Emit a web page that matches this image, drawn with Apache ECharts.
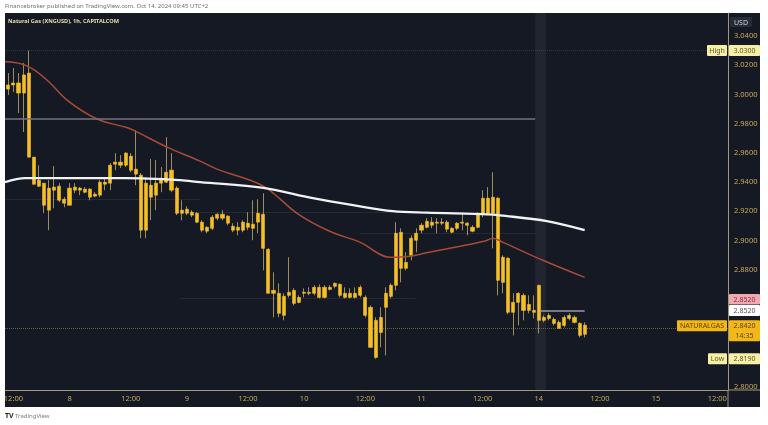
<!DOCTYPE html>
<html><head><meta charset="utf-8">
<script src="https://cdn.jsdelivr.net/npm/echarts@6/dist/echarts.min.js"></script>
<style>html,body{margin:0;padding:0;background:#fff;}#c{width:768px;height:425px;}</style>
</head><body><div id="c"></div>
<script>
// ---- time structure (hourly sessions, 1h break each day) ----
const sessions = [[7, 11, 22], [8, 0, 22], [9, 0, 22], [10, 0, 22], [11, 0, 22], [14, 0, 22], [15, 0, 22]];

// ---- OHLC ----
const openP = [3.0036,3.0064,3.0078,3.0009,3.0146,2.9570,2.9371,2.9392,2.9207,2.9365,2.9371,2.9282,2.9241,2.9365,2.9344,2.9351,2.9351,2.9303,2.9310,2.9399,
2.9392,2.9522,2.9536,2.9515,2.9577,2.9488,2.9447,2.9070,2.9378,2.9310,2.9392,2.9399,2.9481,2.9358,2.9186,2.9214,2.9193,2.9186,2.9125,2.9090,
2.9083,2.9152,2.9179,2.9166,2.9097,2.9070,2.9070,2.9118,2.9083,2.9125,2.9179,2.8939,2.8638,2.8638,2.8487,2.8624,2.8658,2.8576,2.8638,2.8645,
2.8638,2.8679,2.8610,2.8665,2.8686,2.8699,2.8638,2.8610,2.8638,2.8624,2.8610,2.8542,2.8199,2.8473,2.8542,2.8617,2.8693,2.9056,2.8809,2.8898,
2.9001,2.9070,2.9090,2.9125,2.9118,2.9125,2.9125,2.9083,2.9083,2.9118,2.9118,2.9090,2.9090,2.9186,2.9289,2.9186,2.9289,2.8713,2.8878,2.8508,
2.8576,2.8624,2.8521,2.8521,2.8693,2.8453,2.8466,2.8460,2.8439,2.8418,2.8466,2.8473,2.8432,2.8357];
const closeP = [3.0064,3.0078,3.0009,3.0133,2.9570,2.9385,2.9413,2.9241,2.9358,2.9344,2.9275,2.9255,2.9358,2.9344,2.9358,2.9330,2.9296,2.9317,2.9399,2.9385,
2.9515,2.9536,2.9515,2.9598,2.9481,2.9454,2.9070,2.9392,2.9296,2.9392,2.9426,2.9467,2.9344,2.9186,2.9207,2.9186,2.9173,2.9125,2.9070,2.9063,
2.9159,2.9179,2.9152,2.9118,2.9070,2.9090,2.9125,2.9090,2.9111,2.9186,2.8946,2.8638,2.8658,2.8501,2.8617,2.8645,2.8569,2.8610,2.8645,2.8638,
2.8679,2.8610,2.8679,2.8679,2.8706,2.8624,2.8610,2.8638,2.8610,2.8679,2.8487,2.8268,2.8453,2.8370,2.8638,2.8693,2.9049,2.8809,2.8850,2.9015,
2.9049,2.9104,2.9131,2.9104,2.9125,2.9118,2.9077,2.9056,2.9118,2.9125,2.9104,2.9063,2.9186,2.9289,2.9186,2.9296,2.8727,2.8885,2.8508,2.8576,
2.8638,2.8521,2.8562,2.8508,2.8453,2.8473,2.8487,2.8432,2.8398,2.8473,2.8487,2.8439,2.8350,2.8420];
const lowP = [2.9995,3.0016,2.9872,2.9742,2.9570,2.9378,2.9365,2.9186,2.9070,2.9220,2.9262,2.9227,2.9241,2.9323,2.9310,2.9323,2.9275,2.9296,2.9296,2.9344,
2.9344,2.9481,2.9495,2.9502,2.9467,2.9378,2.9015,2.9015,2.9138,2.9207,2.9330,2.9392,2.9330,2.9173,2.9138,2.9173,2.9159,2.9118,2.9056,2.9049,
2.9070,2.9138,2.9138,2.9104,2.9056,2.9035,2.9056,2.9070,2.9001,2.9049,2.8795,2.8638,2.8473,2.8473,2.8453,2.8610,2.8555,2.8569,2.8610,2.8624,
2.8624,2.8603,2.8603,2.8658,2.8672,2.8610,2.8603,2.8603,2.8603,2.8610,2.8473,2.8268,2.8190,2.8268,2.8213,2.8603,2.8658,2.8713,2.8795,2.8864,
2.8919,2.9049,2.9083,2.9083,2.9049,2.9104,2.9056,2.9049,2.9070,2.9070,2.9035,2.9056,2.9083,2.9159,2.9173,2.8946,2.8624,2.8638,2.8494,2.8350,
2.8418,2.8453,2.8501,2.8466,2.8364,2.8439,2.8453,2.8418,2.8398,2.8405,2.8453,2.8432,2.8336,2.8336];
const highP = [3.0146,3.0181,3.0146,3.0215,3.0300,2.9570,2.9515,2.9392,2.9413,2.9509,2.9392,2.9296,2.9392,2.9392,2.9365,2.9365,2.9358,2.9330,2.9413,2.9420,
2.9529,2.9598,2.9584,2.9604,2.9598,2.9755,2.9461,2.9433,2.9557,2.9550,2.9502,2.9707,2.9598,2.9371,2.9275,2.9234,2.9207,2.9193,2.9138,2.9097,
2.9173,2.9186,2.9207,2.9173,2.9118,2.9125,2.9138,2.9193,2.9275,2.9282,2.9323,2.8946,2.8782,2.8706,2.8638,2.8885,2.8672,2.8624,2.8672,2.8679,
2.8693,2.8699,2.8693,2.8693,2.8713,2.8706,2.8679,2.8672,2.8679,2.8693,2.8624,2.8555,2.8473,2.8542,2.8679,2.8706,2.9125,2.9083,2.8919,2.9035,
2.9083,2.9118,2.9152,2.9159,2.9152,2.9152,2.9138,2.9090,2.9125,2.9193,2.9125,2.9104,2.9193,2.9344,2.9365,2.9467,2.9296,2.8898,2.8885,2.8638,
2.8645,2.8638,2.8624,2.8624,2.8693,2.8487,2.8501,2.8473,2.8453,2.8487,2.8501,2.8487,2.8439,2.8439];

// ---- moving averages (bar position, value) ----
const ema50 = [[-0.65,3.0224],[2.5,3.0210],[5,3.0170],[8,3.0085],[11.5,2.9961],[17.4,2.9831],[22.9,2.9776],[24.5,2.9755],[31.1,2.9639],
[37.6,2.9543],[40.9,2.9488],[50,2.9372],[56.6,2.9186],[63,2.9063],[69,2.8987],[74.8,2.8885],[78.8,2.8892],[82,2.8915],[88.6,2.8960],
[93.5,2.8996],[95,2.9015],[97,2.8987],[104.8,2.8864],[113,2.8747]];
const ma200 = [[-0.65,2.9399],[3.3,2.9426],[22.9,2.9426],[33.7,2.9413],[37.6,2.9399],[50,2.9360],[59.7,2.9289],[67.6,2.9241],[75.4,2.9200],
[82,2.9190],[94,2.9179],[96.4,2.9172],[105.6,2.9132],[113,2.9070]];

// ---- axis tick labels ----
const yTickLabels = [2.80, 2.88, 2.90, 2.92, 2.94, 2.96, 2.98, 3.00, 3.02, 3.04];

// ---- levels / price tags ----
const levelHigh = 3.0300, levelLow = 2.8190, levelLast = 2.8420, levelMark = 2.8520, levelRay = 2.9831;
const lastCountdown = '14:35';
const rayEndBar = 103.3, markStartBar = 104.3, markEndBar = 113;
const bandBars = [103.3, 105.4];
const faintLevels = [[-0.65, 37.6, 2.9282], [33.7, 76.8, 2.9193], [69, 103.3, 2.9049], [33.7, 79.8, 2.8603]];

// ---- build ----
const bars = [];
sessions.forEach(([d, h0, h1]) => { for (let h = h0; h <= h1; h++) bars.push({ d, h }); });
const timeTicks = bars.map((b, i) => (b.h === 0 || b.h === 12) ? i : -1).filter(i => i >= 0);
const timeLabel = v => { const b = bars[Math.round(v)]; return b ? (b.h === 0 ? String(b.d) : '12:00') : ''; };

const xMin = -0.65, xMax = 141.1;
const yMin = 2.7976, yMax = 3.0557;
const FONT = 'Noto Sans';
const GOLD = '#f4c025', WICK = '#9b8d60', TXT = '#c9a956', AXIS = '#a39879';

const wickData = openP.map((o, i) => [i, o, closeP[i], lowP[i], highP[i]]);
const bodyData = openP.map((o, i) => [i, o, closeP[i], Math.min(o, closeP[i]), Math.max(o, closeP[i])]);

const faintLines = faintLevels.map(([a, b, v]) => [{ coord: [a, v] }, { coord: [b, v] }]);

const option = {
  backgroundColor: '#ffffff',
  animation: false,
  grid: { left: 5, right: 40, top: 13, bottom: 35, containLabel: false, outerBoundsMode: 'none' },
  xAxis: {
    type: 'value', min: xMin, max: xMax,
    axisLine: { show: true, onZero: false, lineStyle: { color: AXIS, width: 1 } },
    axisTick: { show: false },
    splitLine: { show: false },
    axisLabel: { show: true, customValues: timeTicks, formatter: v => timeLabel(v), color: TXT, fontSize: 7.5, fontFamily: FONT, margin: 5 }
  },
  yAxis: {
    type: 'value', position: 'right', min: yMin, max: yMax,
    axisLine: { show: true, onZero: false, lineStyle: { color: AXIS, width: 1 } },
    axisTick: { show: false },
    splitLine: { show: false },
    axisLabel: { show: true, customValues: yTickLabels, formatter: v => v.toFixed(4), color: TXT, fontSize: 7.5, fontFamily: FONT, margin: 6 }
  },
  series: [
    {
      type: 'candlestick', name: 'wick', data: wickData, z: 2,
      dimensions: ['t', 'open', 'close', 'lowest', 'highest'],
      encode: { x: 0, y: [1, 2, 3, 4] },
      barWidth: 1,
      itemStyle: { color: WICK, color0: WICK, borderColor: WICK, borderColor0: WICK, borderColorDoji: WICK, borderWidth: 1 },
      markArea: {
        silent: true,
        itemStyle: { color: 'rgba(255,255,255,0.055)' },
        data: [[{ xAxis: bandBars[0] }, { xAxis: bandBars[1] }]]
      },
      markLine: {
        silent: true, symbol: 'none', animation: false,
        label: { show: false },
        data: [
          { yAxis: levelHigh, lineStyle: { color: 'rgba(200,190,150,0.18)', type: 'dotted', width: 1 } },
          { yAxis: levelLast, lineStyle: { color: 'rgba(215,180,90,0.45)', type: 'dotted', width: 1 } },
          [{ coord: [xMin, levelRay], lineStyle: { color: '#7a7280', type: 'solid', width: 1.5 } }, { coord: [rayEndBar, levelRay] }],
          [{ coord: [markStartBar, levelMark], lineStyle: { color: '#9d98a3', type: 'solid', width: 1.5 } }, { coord: [markEndBar, levelMark] }],
          ...faintLines.map(p => [Object.assign({ lineStyle: { color: 'rgba(190,190,210,0.10)', type: 'solid', width: 1 } }, p[0]), p[1]])
        ]
      }
    },
    {
      type: 'candlestick', name: 'body', data: bodyData, z: 3,
      dimensions: ['t', 'open', 'close', 'lowest', 'highest'],
      encode: { x: 0, y: [1, 2, 3, 4] },
      barWidth: 3.6,
      itemStyle: { color: GOLD, color0: GOLD, borderColor: GOLD, borderColor0: GOLD, borderColorDoji: GOLD, borderWidth: 0.6 }
    },
    {
      type: 'line', name: 'EMA', data: ema50, z: 4, smooth: 0.35, showSymbol: false, symbol: 'none',
      lineStyle: { color: '#a84b34', width: 1.5 }
    },
    {
      type: 'line', name: 'MA', data: ma200, z: 5, smooth: 0.35, showSymbol: false, symbol: 'none',
      lineStyle: { color: '#f2f2f4', width: 2.3 }
    }
  ]
};

const chart = echarts.init(document.getElementById('c'), null, { renderer: 'canvas' });
chart.setOption(option);

const ax = chart.convertToPixel({ xAxisIndex: 0 }, xMax);
const gy0 = chart.convertToPixel({ yAxisIndex: 0 }, yMin);
const py = v => chart.convertToPixel({ yAxisIndex: 0 }, v);
const panelRight = 760, panelTop = 13, panelBottom = 407, panelLeft = 5;

const g = [];
g.push({ type: 'rect', z: -10, silent: true, shape: { x: panelLeft, y: panelTop, width: panelRight - panelLeft, height: panelBottom - panelTop }, style: { fill: '#151924' } });
g.push({ type: 'line', z: 10, silent: true, shape: { x1: ax, y1: gy0, x2: ax, y2: panelBottom }, style: { stroke: AXIS, lineWidth: 1 } });
g.push({ type: 'line', z: 10, silent: true, shape: { x1: ax, y1: gy0, x2: panelRight, y2: gy0 }, style: { stroke: AXIS, lineWidth: 1 } });
g.push({ type: 'text', z: 10, silent: true, style: { text: 'Financebroker published on TradingView.com, Oct 14, 2024 09:45 UTC+2', x: 5, y: 6, fill: '#6f6f6f', font: '6px ' + FONT, textVerticalAlign: 'middle' } });
g.push({ type: 'text', z: 10, silent: true, style: { text: 'Natural Gas (XNGUSD), 1h, CAPITALCOM', x: 8, y: 21, fill: '#eadfae', font: 'bold 5.6px ' + FONT, textVerticalAlign: 'middle' } });
g.push({ type: 'text', z: 10, silent: true, style: { text: 'TV', x: 5, y: 416, fill: '#1e1e1e', font: 'bold 7px ' + FONT, textVerticalAlign: 'middle' } });
g.push({ type: 'text', z: 10, silent: true, style: { text: 'TradingView', x: 15, y: 416, fill: '#7a7a7a', font: '6px ' + FONT, textVerticalAlign: 'middle' } });

function box(x, y, w, h, bg, lines, color, align) {
  g.push({ type: 'rect', z: 20, silent: true, shape: { x: x, y: y, width: w, height: h, r: 1 }, style: { fill: bg } });
  lines.forEach((t, k) => {
    g.push({ type: 'text', z: 21, silent: true, style: { text: t, x: align === 'right' ? x + w - 2 : x + w / 2, y: y + 5.5 + k * 10, fill: color, font: '7px ' + FONT, textAlign: align === 'right' ? 'right' : 'center', textVerticalAlign: 'middle' } });
  });
}
// USD
box(ax + 2, 17, 22, 10, '#262b3a', ['USD'], '#c9ccd6');
// High
const yH = py(levelHigh);
box(ax - 21, yH - 5.5, 20, 11, '#f6efa6', ['High'], '#5c5530');
box(ax + 1, yH - 5.5, 31, 11, '#f6efa6', [levelHigh.toFixed(4)], '#5c5530');
// 2.8520 (stacked pink above white)
const yM = py(levelMark);
box(ax + 1, yM - 16.5, 31, 10.5, '#f2a8b1', [levelMark.toFixed(4)], '#8a2c3a');
box(ax + 1, yM - 5.5, 31, 11, '#ffffff', [levelMark.toFixed(4)], '#555555');
// last price
const yL = py(levelLast);
box(ax - 51, yL - 5, 50, 11, '#f2b818', ['NATURALGAS'], '#5d4300');
box(ax + 1, yL - 5, 31, 21, '#f2b818', [levelLast.toFixed(4), lastCountdown], '#5d4300');
// Low
const yLo = py(levelLow);
box(ax - 20, yLo - 5.5, 19, 11, '#f6efa6', ['Low'], '#5c5530');
box(ax + 1, yLo - 5.5, 31, 11, '#f6efa6', [levelLow.toFixed(4)], '#5c5530');

chart.setOption({ graphic: g });
</script></body></html>
